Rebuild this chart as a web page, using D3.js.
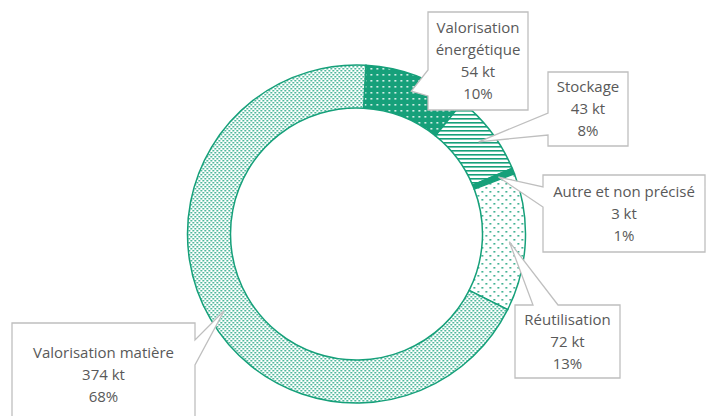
<!DOCTYPE html>
<html>
<head>
<meta charset="utf-8">
<script src="https://cdn.jsdelivr.net/npm/d3@7"></script>
<style>
  body { margin: 0; background: #fff; }
  svg { display: block; }
</style>
</head>
<body>
<svg class="chart"></svg>
<script>
const WIDTH = 707;
const HEIGHT = 416;
const GREEN = "#16a07a";
const LABEL_COLOR = "#595959";
const BOX_STROKE = "#bfbfbf";
const FONT_FAMILY = "'Open Sans', Roboto, sans-serif";
const FONT_SIZE = "15px";
const LINE_HEIGHT = 22;

// data
var categories = ["Valorisation énergétique", "Stockage", "Autre et non précisé", "Réutilisation", "Valorisation matière"];
var labelLines = [["Valorisation", "énergétique"], ["Stockage"], ["Autre et non précisé"], ["Réutilisation"], ["Valorisation matière"]];
var tonnes = [54, 43, 3, 72, 374];
var percents = ["10%", "8%", "1%", "13%", "68%"];
var patterns = ["energie", "stockage", "autre", "reutil", "matiere"];

// callout boxes (layout only) : box + wedge base on one side
var callouts = [
   { x: 428, y: 12, w: 100, h: 98, side: "left", a: 70, b: 96 },
   { x: 548, y: 72, w: 80, h: 74, side: "left", a: 113, b: 135 },
   { x: 543, y: 175, w: 162, h: 77, side: "left", a: 187, b: 207 },
   { x: 515, y: 305, w: 105, h: 73, side: "top", a: 533, b: 558 },
   { x: 12, y: 323, w: 183, h: 100, side: "right", a: 340, b: 365 }
];

var CX = 356.5, CY = 234, R_OUT = 169, R_IN = 126, R_TIP = 153;
var START = 3.2 * Math.PI / 180;

var chart = d3.select(".chart").attr("width", WIDTH).attr("height", HEIGHT);
var defs = chart.append("defs");

// Patterns
function pattern(id, w, h) {
   return defs.append("pattern").attr("id", id)
              .attr("patternUnits", "userSpaceOnUse")
              .attr("width", w).attr("height", h);
}
var p = pattern("energie", 6, 6);
p.append("rect").attr("width", 6).attr("height", 6).attr("fill", GREEN);
p.append("rect").attr("x", 2).attr("y", 2).attr("width", 1.6).attr("height", 1.6).attr("fill", "#fff");

p = pattern("stockage", 4, 4);
p.append("rect").attr("width", 4).attr("height", 4).attr("fill", "#fff");
p.append("rect").attr("y", 0).attr("width", 4).attr("height", 1.6).attr("fill", GREEN);

p = pattern("autre", 4, 4);
p.append("rect").attr("width", 4).attr("height", 4).attr("fill", GREEN);

p = pattern("reutil", 8, 8);
p.append("rect").attr("width", 8).attr("height", 8).attr("fill", "#fff");
p.append("rect").attr("x", 1).attr("y", 1).attr("width", 1.6).attr("height", 1.6).attr("fill", GREEN);
p.append("rect").attr("x", 5).attr("y", 5).attr("width", 1.6).attr("height", 1.6).attr("fill", GREEN);

p = pattern("matiere", 4, 4);
p.append("rect").attr("width", 4).attr("height", 4).attr("fill", "#fff");
p.append("rect").attr("x", 0).attr("y", 0).attr("width", 1.5).attr("height", 1.5).attr("fill", GREEN);
p.append("rect").attr("x", 2).attr("y", 2).attr("width", 1.5).attr("height", 1.5).attr("fill", GREEN);

// Donut
var pie = d3.pie().sort(null).startAngle(START).endAngle(START + 2 * Math.PI);
var arcs = pie(tonnes);
var arc = d3.arc().innerRadius(R_IN).outerRadius(R_OUT);
var tipArc = d3.arc().innerRadius(R_TIP).outerRadius(R_TIP);

var donut = chart.append("g").attr("transform", "translate(" + CX + "," + CY + ")");
donut.selectAll("path")
     .data(arcs)
     .enter().append("path")
     .attr("d", arc)
     .attr("fill", function(d, i) { return "url(#" + patterns[i] + ")"; })
     .attr("stroke", GREEN)
     .attr("stroke-width", 1.5);

// Callouts
function calloutPath(c, tip) {
   var x0 = c.x, y0 = c.y, x1 = c.x + c.w, y1 = c.y + c.h;
   var pts;
   if (c.side == "left") {
      pts = [[x0, y0], [x1, y0], [x1, y1], [x0, y1], [x0, c.b], tip, [x0, c.a]];
   } else if (c.side == "right") {
      pts = [[x0, y0], [x1, y0], [x1, c.a], tip, [x1, c.b], [x1, y1], [x0, y1]];
   } else {
      pts = [[x0, y0], [c.a, y0], tip, [c.b, y0], [x1, y0], [x1, y1], [x0, y1]];
   }
   return "M" + pts.map(function(q) { return q[0] + "," + q[1]; }).join("L") + "Z";
}

var labels = chart.append("g");
var label = labels.selectAll("g")
                  .data(arcs)
                  .enter().append("g");
label.append("path")
     .attr("d", function(d, i) {
        var t = tipArc.centroid(d);
        return calloutPath(callouts[i], [CX + t[0], CY + t[1]]);
     })
     .attr("fill", "#fff")
     .attr("stroke", BOX_STROKE)
     .attr("stroke-width", 1.3)
     .attr("stroke-linejoin", "miter");

label.each(function(d, i) {
   var c = callouts[i];
   var lines = labelLines[i].concat([tonnes[i] + " kt", percents[i]]);
   var cx = c.x + c.w / 2;
   var top = i == 4 ? 353 : c.y + c.h / 2 - (lines.length - 1) * LINE_HEIGHT / 2;
   d3.select(this).selectAll("text")
     .data(lines)
     .enter().append("text")
     .attr("x", cx)
     .attr("y", function(l, k) { return top + k * LINE_HEIGHT; })
     .attr("dy", ".35em")
     .attr("text-anchor", "middle")
     .attr("font-family", FONT_FAMILY)
     .attr("font-size", FONT_SIZE)
     .attr("fill", LABEL_COLOR)
     .text(function(l) { return l; });
});
</script>
</body>
</html>
